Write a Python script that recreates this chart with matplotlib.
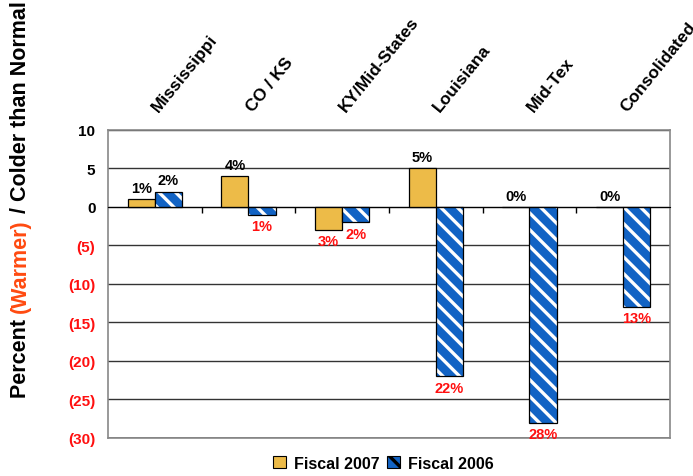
import matplotlib
matplotlib.use("Agg")
import matplotlib.pyplot as plt
import numpy as np
from matplotlib.patches import Patch

plt.rcParams['font.family'] = ['Liberation Sans', 'DejaVu Sans']
plt.rcParams['font.weight'] = 'bold'
plt.rcParams['hatch.linewidth'] = 2.4
plt.rcParams['hatch.color'] = 'white'

regions = ["Mississippi", "CO / KS", "KY/Mid-States", "Louisiana", "Mid-Tex", "Consolidated"]
fiscal_2007 = [1, 4, -3, 5, 0, 0]
fiscal_2006 = [2, -1, -2, -22, -28, -13]
y_ticks = [10, 5, 0, -5, -10, -15, -20, -25, -30]
y_tick_labels = ["10", "5", "0", "(5)", "(10)", "(15)", "(20)", "(25)", "(30)"]

orange = '#EDBB48'
blue = '#1263C4'
red = '#FF1010'

fig = plt.figure(figsize=(6.93, 4.77), dpi=100)
ax = fig.add_axes([0.1558, 0.0797, 0.811, 0.6457])

x = np.arange(len(regions))
w = 0.29

ax.bar(x - w / 2, fiscal_2007, w, color=orange, edgecolor='black', linewidth=0.9, zorder=3)
# hatched fill first, then a plain black outline over it
ax.bar(x + w / 2, fiscal_2006, w, color=blue, edgecolor='white', linewidth=0, hatch='\\\\', zorder=3)
ax.bar(x + w / 2, fiscal_2006, w, fill=False, edgecolor='black', linewidth=0.9, zorder=4)

# value labels
for xs, vals in ((x - w / 2, fiscal_2007), (x + w / 2, fiscal_2006)):
    for xi, v in zip(xs, vals):
        if v >= 0:
            ax.annotate(f"{abs(v)}%", (xi, v), xytext=(0, 3), textcoords='offset points',
                        ha='center', va='bottom', fontsize=10.5, color='black')
        else:
            ax.annotate(f"{abs(v)}%", (xi, v), xytext=(0, -3), textcoords='offset points',
                        ha='center', va='top', fontsize=10.5, color=red)

ax.set_xlim(-0.5, len(regions) - 0.5)
ax.set_ylim(-30, 10)

ax.set_yticks(y_ticks)
ax.set_yticklabels(y_tick_labels, fontsize=11)
for lbl, v in zip(ax.get_yticklabels(), y_ticks):
    lbl.set_color(red if v < 0 else 'black')
ax.tick_params(axis='y', length=0, pad=9)
ax.yaxis.grid(True, color='#333333', linewidth=1, zorder=0)
ax.axhline(-30, color='#888888', linewidth=1.2, clip_on=False, zorder=1)

# x axis sits on the zero line with small ticks between regions
ax.spines['bottom'].set_position(('data', 0))
ax.spines['bottom'].set_color('black')
ax.spines['bottom'].set_zorder(5)
ax.set_xticks(np.arange(len(regions) - 1) + 0.5)
ax.set_xticklabels([])
ax.tick_params(axis='x', direction='out', length=4, color='black', width=1)
for s in ('left', 'right', 'top'):
    ax.spines[s].set_color('#888888')
    ax.spines[s].set_linewidth(1.2)

# region names, slanted above the plot
for xi, name in zip(x, regions):
    ax.annotate(name, (xi, 1), xycoords=('data', 'axes fraction'), xytext=(3, 13),
                textcoords='offset points', rotation=51, rotation_mode='anchor',
                ha='left', va='baseline', fontsize=12.5, annotation_clip=False)

# y label in three coloured pieces
t1 = fig.text(0.03, 0.166, "Percent ", rotation=90, ha='center', va='bottom', fontsize=15.5)
t2 = ax.annotate("(Warmer)", xy=(0.5, 1), xycoords=t1, ha='center', va='bottom',
                 rotation=90, fontsize=15.5, color='#FF4A10')
ax.annotate(" / Colder than Normal", xy=(0.5, 1), xycoords=t2, ha='center', va='bottom',
            rotation=90, fontsize=15.5)

handles = [Patch(facecolor=orange, edgecolor='black', linewidth=0.8),
           Patch(facecolor=blue, edgecolor='black', linewidth=0.8, hatch='\\\\')]
fig.legend(handles, ["Fiscal 2007", "Fiscal 2006"], loc='center', bbox_to_anchor=(0.553, 0.027),
           ncol=2, frameon=False, fontsize=11.5, handlelength=0.8, handleheight=0.8,
           handletextpad=0.5, columnspacing=0.5)

fig.savefig("out.png", dpi=100)
